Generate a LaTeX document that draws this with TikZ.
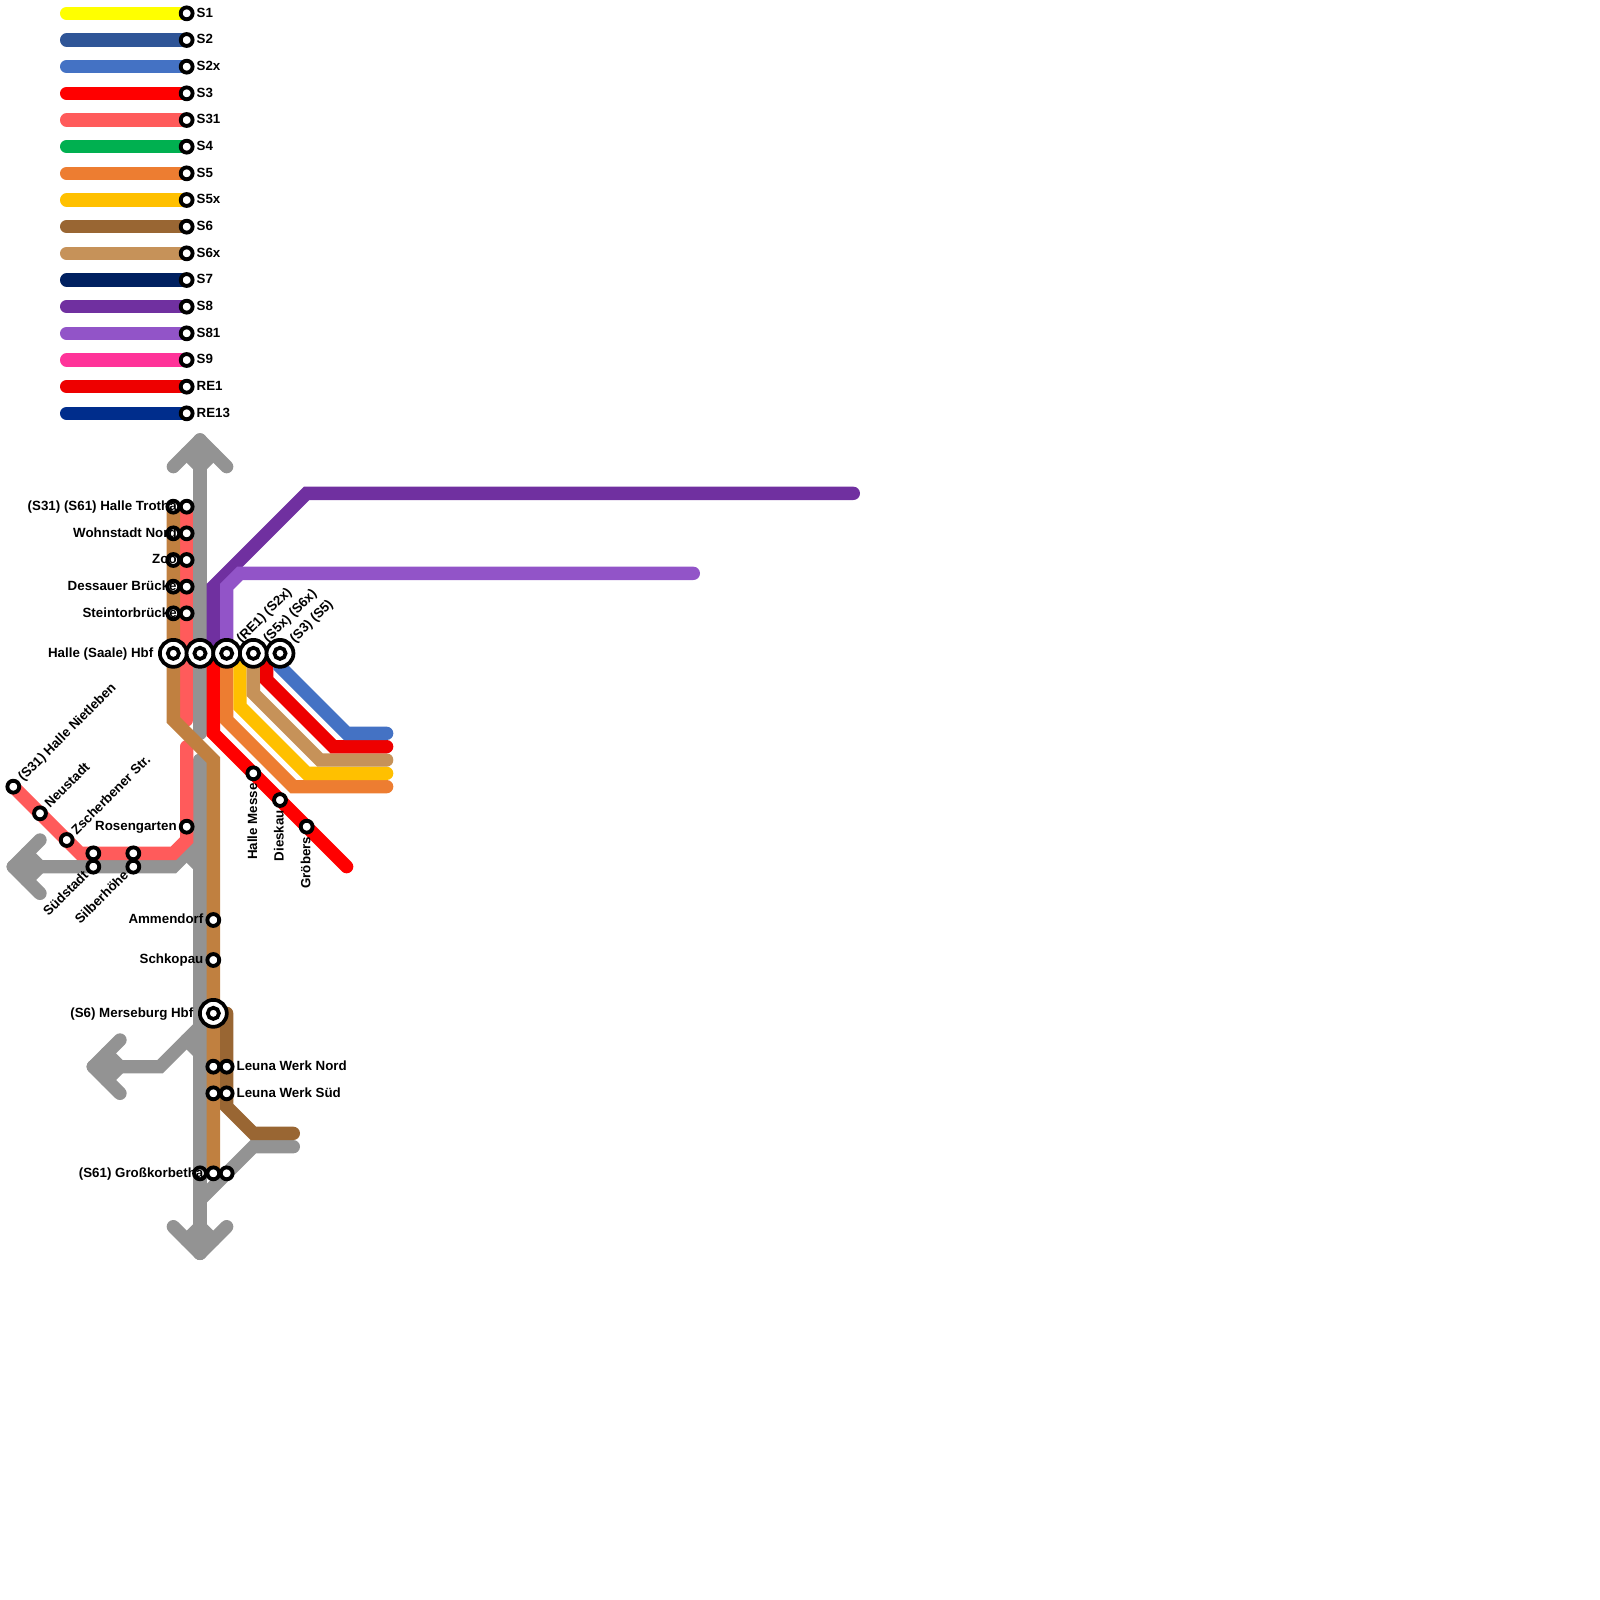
\documentclass[tikz,border=0pt]{standalone}
\usepackage{fontspec}
\setmainfont{Liberation Sans}
\pgfdeclarelayer{lines}
\pgfsetlayers{lines,main}
\definecolor{cS1}{HTML}{FFFF00}
\definecolor{cS2}{HTML}{2F5597}
\definecolor{cS2x}{HTML}{4472C4}
\definecolor{cS3}{HTML}{FF0000}
\definecolor{cS31}{HTML}{FF5B5B}
\definecolor{cS4}{HTML}{00B050}
\definecolor{cS5}{HTML}{ED7D31}
\definecolor{cS5x}{HTML}{FFC000}
\definecolor{cS6}{HTML}{996633}
\definecolor{cS6x}{HTML}{C69259}
\definecolor{cS61}{HTML}{C08040}
\definecolor{cS7}{HTML}{002060}
\definecolor{cS8}{HTML}{7030A0}
\definecolor{cS81}{HTML}{9254C8}
\definecolor{cS9}{HTML}{FF3399}
\definecolor{cRE1}{HTML}{EE0000}
\definecolor{cRE13}{HTML}{002D8C}
\definecolor{cGrey}{HTML}{939393}
\tikzset{
  ln/.style={line width=10pt,line cap=round,line join=miter},
  stn/.style={circle,draw=black,fill=white,line width=2.9pt,minimum size=8.9pt,inner sep=0pt,outer sep=0pt},
  hubin/.style={circle,draw=black,fill=white,line width=2.8pt,minimum size=8.4pt,inner sep=0pt,outer sep=0pt},
  hub/.style={circle,draw=black,fill=white,line width=2.8pt,minimum size=20.2pt,inner sep=0pt,outer sep=0pt,label={[hubin]center:{}}},
  lbl/.style={font=\fontsize{10}{12}\selectfont\bfseries,text=black,inner sep=0pt,outer sep=0pt},
}
\newcommand{\lblR}[2]{\path (#1) ++(7.5pt,-2.8pt) node[lbl,anchor=base west] (#1-l) {#2};}
\newcommand{\lblL}[3][7.5pt]{\path (#2) ++(-#1,-2.8pt) node[lbl,anchor=base east] (#2-l) {#3};}
\newcommand{\lblNE}[2]{\path (#1) ++(7.6pt,3.7pt) node[lbl,rotate=45,anchor=base west] (#1-l) {#2};}
\newcommand{\lblHub}[2]{\path (#1) ++(11.4pt,7.5pt) node[lbl,rotate=45,anchor=base west] (#1-l) {#2};}
\newcommand{\lblSW}[2]{\path (#1) ++(-3.2pt,-7.1pt) node[lbl,rotate=45,anchor=base east] (#1-l) {#2};}
\newcommand{\lblD}[2]{\path (#1) ++(2.8pt,-7.6pt) node[lbl,rotate=90,anchor=base east] (#1-l) {#2};}
\begin{document}
\begin{tikzpicture}[x=10pt,y=-10pt]
\useasboundingbox (0,0) rectangle (120,120);
% legend
\foreach \i/\c/\t in {1/cS1/S1,2/cS2/S2,3/cS2x/S2x,4/cS3/S3,5/cS31/S31,6/cS4/S4,7/cS5/S5,8/cS5x/S5x,9/cS6/S6,10/cS6x/S6x,11/cS7/S7,12/cS8/S8,13/cS81/S81,14/cS9/S9,15/cRE1/RE1,16/cRE13/RE13}{
  \pgfmathsetmacro{\yy}{2*\i-1}
  \coordinate (legs\i) at (5,\yy);
  \node[stn] (leg\i) at (14,\yy) {};
  \begin{pgfonlayer}{lines}
    \draw[ln,draw=\c] (legs\i) -- (leg\i.center);
  \end{pgfonlayer}
  \lblR{leg\i}{\t}
}
% stations
\foreach \n/\y in {a/38,b/40,c/42,d/44,e/46}{
  \node[stn] (sw\n) at (13,\y) {};
  \node[stn] (se\n) at (14,\y) {};
}
\node[hub] (hbfA) at (13,49) {};
\node[hub] (hbfB) at (15,49) {};
\node[hub] (hbfC) at (17,49) {};
\node[hub] (hbfD) at (19,49) {};
\node[hub] (hbfE) at (21,49) {};
\node[stn] (nietleben) at (1,59) {};
\node[stn] (neustadt) at (3,61) {};
\node[stn] (zscherb) at (5,63) {};
\node[stn] (suedA) at (7,64) {};
\node[stn] (suedB) at (7,65) {};
\node[stn] (silbA) at (10,64) {};
\node[stn] (silbB) at (10,65) {};
\node[stn] (rosen) at (14,62) {};
\node[stn] (messe) at (19,58) {};
\node[stn] (dieskau) at (21,60) {};
\node[stn] (groebers) at (23,62) {};
\node[stn] (ammen) at (16,69) {};
\node[stn] (schko) at (16,72) {};
\node[hub] (merse) at (16,76) {};
\node[stn] (leunaA) at (16,80) {};
\node[stn] (leunaB) at (17,80) {};
\node[stn] (leunaC) at (16,82) {};
\node[stn] (leunaD) at (17,82) {};
\node[stn] (grossA) at (15,88) {};
\node[stn] (grossB) at (16,88) {};
\node[stn] (grossC) at (17,88) {};
% bend points and free ends
\coordinate (gt) at (15,33);
\coordinate (gtl) at (13,35);
\coordinate (gtr) at (17,35);
\coordinate (gtfl) at (14,34);
\coordinate (gtfr) at (16,34);
\coordinate (gtfc) at (15,35);
\coordinate (gu) at (15,55);
\coordinate (gd) at (15,57);
\coordinate (gb) at (15,94);
\coordinate (gbl) at (13,92);
\coordinate (gbr) at (17,92);
\coordinate (gbfl) at (14,93);
\coordinate (gbfr) at (16,93);
\coordinate (gbfc) at (15,92);
\coordinate (wt) at (1,65);
\coordinate (wu) at (3,63);
\coordinate (wl) at (3,67);
\coordinate (wfu) at (2,64);
\coordinate (wfl) at (2,66);
\coordinate (wfc) at (3,65);
\coordinate (wa) at (13,65);
\coordinate (wb) at (15,63);
\coordinate (wn1) at (14,64);
\coordinate (wn2) at (15,65);
\coordinate (mt) at (7,80);
\coordinate (mu) at (9,78);
\coordinate (ml) at (9,82);
\coordinate (mfu) at (8,79);
\coordinate (mfl) at (8,81);
\coordinate (mfc) at (9,80);
\coordinate (ma) at (12,80);
\coordinate (mb) at (15,77);
\coordinate (mn1) at (14,78);
\coordinate (mn2) at (15,79);
\coordinate (ka) at (22,86);
\coordinate (kb) at (19,86);
\coordinate (kc) at (15,90);
\coordinate (r1) at (14,54);
\coordinate (r2) at (14,56);
\coordinate (r3) at (14,63);
\coordinate (r4) at (13,64);
\coordinate (r5) at (6,64);
\coordinate (b1) at (13,54);
\coordinate (b2) at (16,57);
\coordinate (d0) at (17,76);
\coordinate (d1) at (17,83);
\coordinate (d2) at (19,85);
\coordinate (d3) at (22,85);
\coordinate (x0) at (16,49);
\coordinate (x1) at (16,55);
\coordinate (x2) at (26,65);
\coordinate (o1) at (17,54);
\coordinate (o2) at (22,59);
\coordinate (o3) at (29,59);
\coordinate (y0) at (18,49);
\coordinate (y1) at (18,53);
\coordinate (y2) at (23,58);
\coordinate (y3) at (29,58);
\coordinate (t1) at (19,52);
\coordinate (t2) at (24,57);
\coordinate (t3) at (29,57);
\coordinate (e0) at (20,49);
\coordinate (e1) at (20,51);
\coordinate (e2) at (25,56);
\coordinate (e3) at (29,56);
\coordinate (s1) at (21,50);
\coordinate (s2) at (26,55);
\coordinate (s3) at (29,55);
\coordinate (p1) at (16,44);
\coordinate (p2) at (23,37);
\coordinate (p3) at (64,37);
\coordinate (v1) at (17,44);
\coordinate (v2) at (18,43);
\coordinate (v3) at (52,43);
% connectors
\begin{pgfonlayer}{lines}
\draw[ln,cGrey] (gt) -- (gu);
\draw[ln,cGrey] (gtl) -- (gt);
\draw[ln,cGrey] (gtr) -- (gt);
\draw[ln,cGrey] (gtfl) -- (gtfc);
\draw[ln,cGrey] (gtfr) -- (gtfc);
\draw[ln,cGrey] (gd) -- (gb);
\draw[ln,cGrey] (gbl) -- (gb);
\draw[ln,cGrey] (gbr) -- (gb);
\draw[ln,cGrey] (gbfl) -- (gbfc);
\draw[ln,cGrey] (gbfr) -- (gbfc);
\draw[ln,cGrey] (wt) -- (wa) -- (wb);
\draw[ln,cGrey] (wn1) -- (wn2);
\draw[ln,cGrey] (wu) -- (wt);
\draw[ln,cGrey] (wl) -- (wt);
\draw[ln,cGrey] (wfu) -- (wfc);
\draw[ln,cGrey] (wfl) -- (wfc);
\draw[ln,cGrey] (mt) -- (ma) -- (mb);
\draw[ln,cGrey] (mn1) -- (mn2);
\draw[ln,cGrey] (mu) -- (mt);
\draw[ln,cGrey] (ml) -- (mt);
\draw[ln,cGrey] (mfu) -- (mfc);
\draw[ln,cGrey] (mfl) -- (mfc);
\draw[ln,cGrey] (ka) -- (kb) -- (kc);
\draw[ln,cS31] (sea.center) -- (r1);
\draw[ln,cS31] (r2) -- (r3) -- (r4) -- (r5) -- (nietleben.center);
\draw[ln,cS61] (swa.center) -- (b1) -- (b2) -- (grossB.center);
\draw[ln,cS6] (d0) -- (d1) -- (d2) -- (d3);
\draw[ln,cS3] (x0) -- (x1) -- (x2);
\draw[ln,cS5] (hbfC.center) -- (o1) -- (o2) -- (o3);
\draw[ln,cS5x] (y0) -- (y1) -- (y2) -- (y3);
\draw[ln,cS6x] (hbfD.center) -- (t1) -- (t2) -- (t3);
\draw[ln,cRE1] (e0) -- (e1) -- (e2) -- (e3);
\draw[ln,cS2x] (hbfE.center) -- (s1) -- (s2) -- (s3);
\draw[ln,cS8] (x0) -- (p1) -- (p2) -- (p3);
\draw[ln,cS81] (hbfC.center) -- (v1) -- (v2) -- (v3);
\end{pgfonlayer}
% labels
\lblL{sea}{(S31) (S61) Halle Trotha}
\lblL{seb}{Wohnstadt Nord}
\lblL{sec}{Zoo}
\lblL{sed}{Dessauer Brücke}
\lblL{see}{Steintorbrücke}
\lblL[15pt]{hbfA}{Halle (Saale) Hbf}
\lblL{rosen}{Rosengarten}
\lblL{ammen}{Ammendorf}
\lblL{schko}{Schkopau}
\lblL[15pt]{merse}{(S6) Merseburg Hbf}
\lblL{grossB}{(S61) Großkorbetha}
\lblR{leunaB}{Leuna Werk Nord}
\lblR{leunaD}{Leuna Werk Süd}
\lblHub{hbfC}{(RE1) (S2x)}
\lblHub{hbfD}{(S5x) (S6x)}
\lblHub{hbfE}{(S3) (S5)}
\lblNE{nietleben}{(S31) Halle Nietleben}
\lblNE{neustadt}{Neustadt}
\lblNE{zscherb}{Zscherbener Str.}
\lblSW{suedB}{Südstadt}
\lblSW{silbB}{Silberhöhe}
\lblD{messe}{Halle Messe}
\lblD{dieskau}{Dieskau}
\lblD{groebers}{Gröbers}
\end{tikzpicture}
\end{document}
